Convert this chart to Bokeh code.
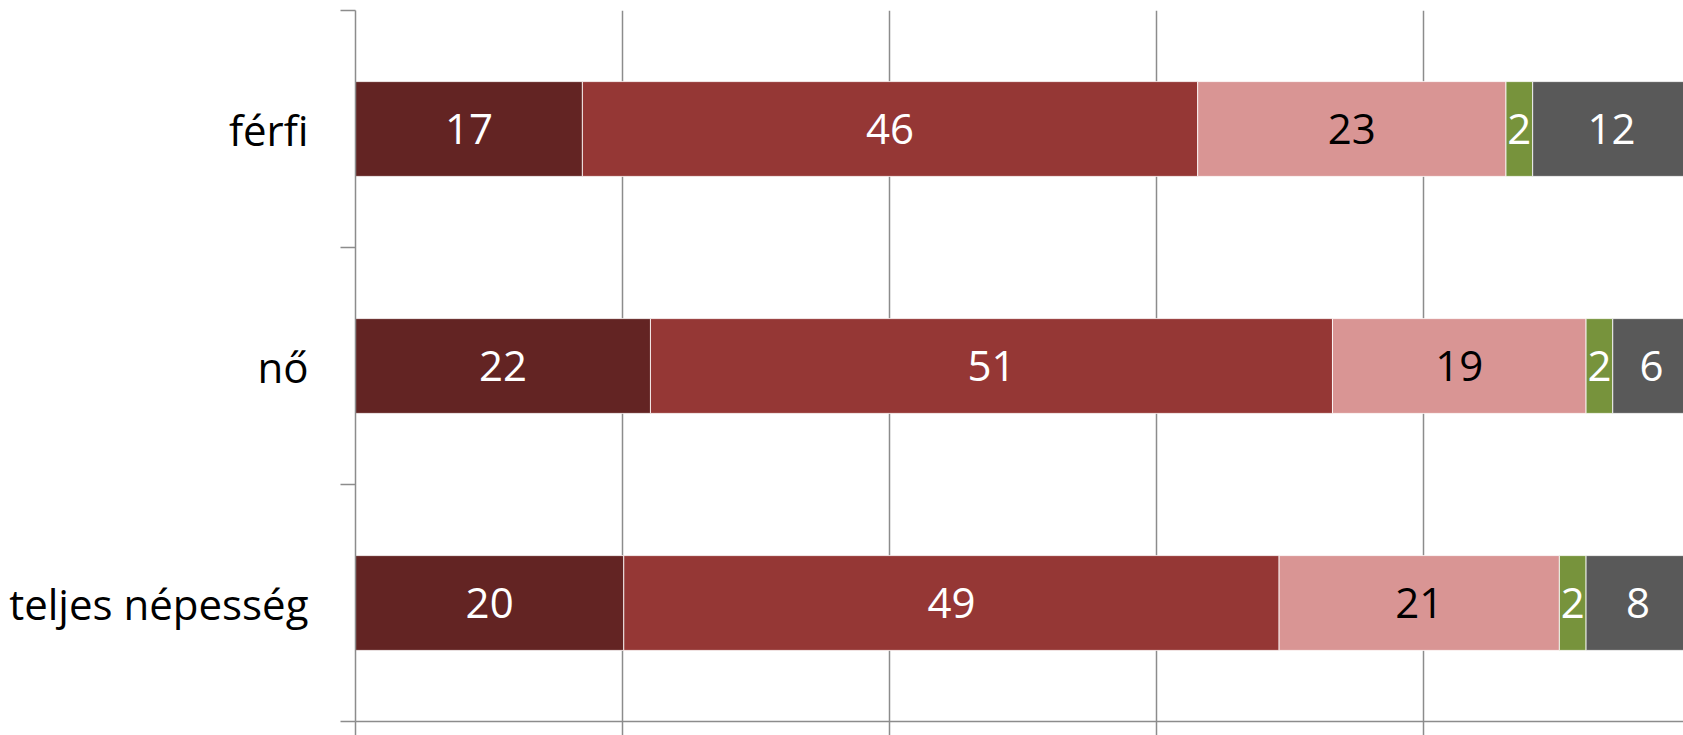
from bokeh.plotting import figure
from bokeh.models import ColumnDataSource, FixedTicker, Range1d
from bokeh.core.properties import value
from bokeh.embed import file_html
from bokeh.resources import INLINE

categories = ["teljes népesség", "nő", "férfi"]  # bottom to top
series_names = ["s1", "s2", "s3", "s4", "s5"]
s1 = [20.1, 22.1, 17.0]
s2 = [49.1, 51.1, 46.1]
s3 = [21.0, 19.0, 23.1]
s4 = [2.0, 2.0, 2.0]
s5 = [7.8, 5.8, 11.8]
colors = ["#632423", "#953735", "#D99594", "#77933C", "#595959"]
text_colors = ["white", "white", "black", "white", "white"]
x_ticks = [0, 20, 40, 60, 80, 100]

series = [s1, s2, s3, s4, s5]
ys = [i + 0.5 for i in range(len(categories))]

p = figure(width=1683, height=735, output_backend="svg", toolbar_location=None,
           x_range=Range1d(0, 99.5), y_range=Range1d(0, 3),
           min_border_left=355, min_border_right=0, min_border_top=10,
           min_border_bottom=12)
p.outline_line_color = None
p.background_fill_color = "white"
p.border_fill_color = "white"

left = [0.0] * len(categories)
for vals, col, tcol in zip(series, colors, text_colors):
    right = [l + v for l, v in zip(left, vals)]
    mid = [(l + r) / 2 for l, r in zip(left, right)]
    src = ColumnDataSource(dict(y=ys, left=left, right=right, mid=mid,
                                lab=[str(int(round(v))) for v in vals]))
    p.hbar(y="y", left="left", right="right", height=0.4, source=src,
           fill_color=col, line_color="white", line_width=0.8)
    p.text(x="mid", y="y", text="lab", source=src, text_align="center",
           text_baseline="middle", text_color=tcol,
           text_font=value("Open Sans"), text_font_size="42px")
    left = right

# x axis
xa = p.xaxis[0]
xa.ticker = FixedTicker(ticks=x_ticks)
xa.major_label_text_font_size = "0px"
xa.major_label_text_color = None
xa.major_tick_out = 14
xa.major_tick_in = 0
xa.minor_tick_line_color = None
xa.axis_line_color = "#8c8c8c"
xa.major_tick_line_color = "#8c8c8c"
xa.axis_line_width = 1.5
xa.major_tick_line_width = 1.5

# y axis
ya = p.yaxis[0]
ya.ticker = FixedTicker(ticks=ys, minor_ticks=[0, 1, 2, 3])
ya.major_label_overrides = {y: c for y, c in zip(ys, categories)}
ya.major_label_text_font = "Open Sans"
ya.major_label_text_font_size = "42px"
ya.major_label_text_color = "black"
ya.major_label_standoff = 32
ya.major_tick_line_color = None
ya.major_tick_out = 0
ya.major_tick_in = 0
ya.minor_tick_out = 15
ya.minor_tick_in = 0
ya.minor_tick_line_color = "#8c8c8c"
ya.minor_tick_line_width = 1.5
ya.axis_line_color = "#8c8c8c"
ya.axis_line_width = 1.5

p.xgrid.ticker = FixedTicker(ticks=x_ticks)
p.xgrid.grid_line_color = "#8c8c8c"
p.xgrid.grid_line_width = 1.5
p.ygrid.grid_line_color = None

open("out.html", "w").write(file_html(p, INLINE))
